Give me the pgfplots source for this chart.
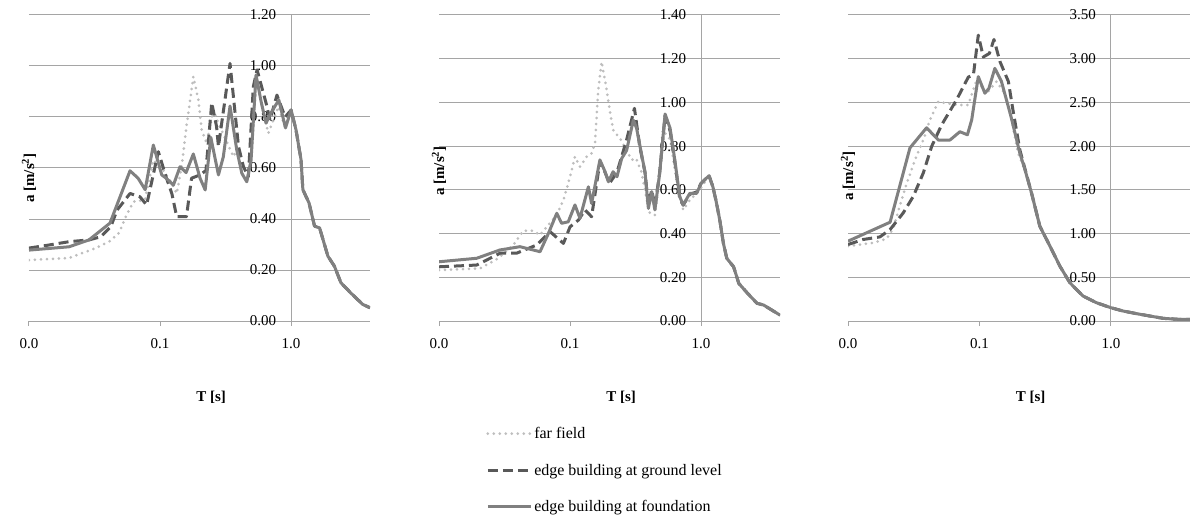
\documentclass[border=0pt]{standalone}
\usepackage{fontspec}
\setmainfont{Liberation Serif}
\usepackage{pgfplots}
\pgfplotsset{compat=1.18}

\definecolor{farcol}{RGB}{190,190,190}
\definecolor{groundcol}{RGB}{89,89,89}
\definecolor{foundcol}{RGB}{128,128,128}
\definecolor{gridcol}{RGB}{165,165,165}

\pgfkeys{/pgf/number format/assume math mode=true}
\tikzset{
  far/.style={farcol, line width=3pt, dash pattern=on 0pt off 6pt, line cap=round, line join=round},
  ground/.style={groundcol, line width=3pt, dash pattern=on 10pt off 5pt, line join=round},
  found/.style={foundcol, line width=3pt, line join=round},
}
\pgfplotsset{
  every axis/.append style={
    scale only axis, height=306pt,
    xmin=0.01, xmax=4, ymin=0,
    clip mode=individual,
    axis x line=bottom, axis y line=middle,
    axis line style={gridcol, line width=1pt, -},
    xtick={0.01,0.1,1}, xticklabels={0.0,0.1,1.0},
    xminorticks=false,
    xtick align=outside, major tick length=5pt,
    x tick style={gridcol, line width=1pt},
    y tick style={draw=none},
    hide obscured y ticks=false,
    ymajorgrids, grid style={gridcol, line width=1pt},
    yticklabel={\pgfmathprintnumber[fixed,fixed zerofill,precision=2]{\tick}\hspace*{9pt}},
    x tick label style={yshift=-9pt},
    tick label style={font=\fontsize{15}{18}\selectfont},
  },
}
\newcommand{\ylab}[1]{\node[rotate=90, font=\fontsize{15}{18}\selectfont\bfseries] at (rel axis cs:0,0.5) [xshift=#1] {a [m/s\textsuperscript{2}]};}
\newcommand{\xlab}{\node[font=\fontsize{15}{18}\selectfont\bfseries] at (rel axis cs:0.534,0) [yshift=-76pt] {T [s]};}

\begin{document}
\begin{tikzpicture}
\useasboundingbox (0,0) rectangle (1190pt,517pt);

% left panel
\begin{axis}[xmode=log, width=341pt, at={(29pt,196pt)}, anchor=south west,
  ymax=1.2, ytick={0,0.2,0.4,0.6,0.8,1.0,1.2}]
\addplot[far] coordinates {
 (0.01,0.239) (0.0202,0.247) (0.0254,0.266) (0.0323,0.286) (0.0408,0.311) (0.0486,0.345)
 (0.0548,0.409) (0.0626,0.468) (0.0767,0.475) (0.089,0.631) (0.1054,0.592) (0.1228,0.54)
 (0.134,0.50) (0.146,0.605) (0.159,0.762) (0.1795,0.958) (0.196,0.867) (0.208,0.749)
 (0.227,0.697) (0.255,0.827) (0.286,0.762) (0.325,0.70) (0.363,0.644) (0.385,0.671)
 (0.421,0.58) (0.459,0.546) (0.495,0.631) (0.545,0.96) (0.60,0.84) (0.67,0.736)
 (0.80,0.84) (0.9,0.76) (1.0,0.828)
 (1.09,0.75) (1.19,0.633) (1.23,0.515) (1.37,0.463) (1.51,0.372) (1.65,0.365)
 (1.91,0.254) (2.14,0.215) (2.40,0.150) (2.84,0.111) (3.52,0.065) (4.0,0.052)};
\addplot[ground] coordinates {
 (0.01,0.286) (0.0142,0.298) (0.0202,0.311) (0.0287,0.318) (0.0352,0.33) (0.0421,0.37)
 (0.047,0.435) (0.059,0.50) (0.0703,0.487) (0.079,0.455) (0.097,0.664) (0.112,0.56)
 (0.123,0.50) (0.134,0.409) (0.159,0.409) (0.174,0.56) (0.202,0.573) (0.224,0.59)
 (0.248,0.856) (0.27,0.762) (0.279,0.684) (0.342,1.01) (0.397,0.684) (0.433,0.605)
 (0.472,0.566) (0.515,0.919) (0.55,0.985) (0.65,0.847) (0.69,0.788) (0.78,0.886)
 (0.9,0.80) (1.0,0.827)
 (1.09,0.75) (1.19,0.633) (1.23,0.515) (1.37,0.463) (1.51,0.372) (1.65,0.365)
 (1.91,0.254) (2.14,0.215) (2.40,0.150) (2.84,0.111) (3.52,0.065) (4.0,0.052)};
\addplot[found] coordinates {
 (0.01,0.278) (0.0202,0.291) (0.0287,0.318) (0.0415,0.384) (0.059,0.589) (0.068,0.56)
 (0.077,0.515) (0.0889,0.690) (0.103,0.573) (0.112,0.559) (0.1265,0.533) (0.142,0.605)
 (0.158,0.582) (0.1795,0.655) (0.202,0.56) (0.221,0.514) (0.244,0.72) (0.279,0.573)
 (0.304,0.644) (0.342,0.843) (0.385,0.671) (0.421,0.579) (0.459,0.546) (0.495,0.631)
 (0.54,0.965) (0.59,0.861) (0.644,0.776) (0.70,0.815) (0.806,0.867) (0.906,0.757) (1.0,0.828)
 (1.09,0.75) (1.19,0.633) (1.23,0.515) (1.37,0.463) (1.51,0.372) (1.65,0.365)
 (1.91,0.254) (2.14,0.215) (2.40,0.150) (2.84,0.111) (3.52,0.065) (4.0,0.052)};
\ylab{-10pt}
\xlab
\end{axis}

% middle panel
\begin{axis}[xmode=log, width=341pt, at={(439pt,196pt)}, anchor=south west,
  ymax=1.4, ytick={0,0.2,0.4,0.6,0.8,1.0,1.2,1.4},
  legend style={at={(0.138,-0.34)}, anchor=north west, draw=none, fill=none,
    font=\fontsize{16}{19}\selectfont, row sep=20pt, inner sep=0pt, cells={anchor=west}},
  legend image code/.code={\draw[#1] (0pt,0pt) -- (43pt,0pt);}]
\addplot[far] coordinates {
 (0.01,0.233) (0.0206,0.241) (0.0284,0.287) (0.0369,0.348) (0.044,0.413) (0.0525,0.413)
 (0.059,0.393) (0.0664,0.431) (0.079,0.485) (0.089,0.553) (0.1,0.66) (0.109,0.752)
 (0.119,0.706) (0.134,0.752) (0.146,0.767) (0.155,0.813) (0.164,1.057) (0.174,1.186)
 (0.185,1.102) (0.199,0.98) (0.213,0.874) (0.24,0.836) (0.27,0.782) (0.294,0.737)
 (0.32,0.744) (0.35,0.683) (0.385,0.553) (0.406,0.493) (0.444,0.485) (0.47,0.6)
 (0.51,0.874) (0.58,0.83) (0.65,0.645) (0.73,0.508) (0.82,0.553) (0.98,0.6) (1.0,0.61)
 (1.15,0.665) (1.23,0.614) (1.3,0.55) (1.39,0.46) (1.48,0.355) (1.57,0.287) (1.77,0.248)
 (1.94,0.172) (2.26,0.127) (2.67,0.081) (3.0,0.073) (4.0,0.027)};
\addplot[ground] coordinates {
 (0.01,0.248) (0.0194,0.256) (0.0292,0.31) (0.039,0.31) (0.0558,0.348) (0.0703,0.409)
 (0.089,0.355) (0.1,0.431) (0.116,0.462) (0.13,0.508) (0.146,0.477) (0.169,0.729)
 (0.185,0.68) (0.2,0.63) (0.228,0.68) (0.27,0.828) (0.31,0.973) (0.34,0.8) (0.373,0.68)
 (0.396,0.53) (0.42,0.6) (0.444,0.52) (0.483,0.68) (0.531,0.94) (0.58,0.87) (0.63,0.73)
 (0.687,0.56) (0.73,0.53) (0.82,0.58) (0.925,0.59) (1.0,0.63)
 (1.15,0.665) (1.23,0.614) (1.3,0.55) (1.39,0.46) (1.48,0.355) (1.57,0.287) (1.77,0.248)
 (1.94,0.172) (2.26,0.127) (2.67,0.081) (3.0,0.073) (4.0,0.027)};
\addplot[found] coordinates {
 (0.01,0.271) (0.0194,0.287) (0.0292,0.325) (0.0415,0.34) (0.05,0.328) (0.059,0.317)
 (0.0683,0.40) (0.0792,0.493) (0.0862,0.447) (0.0969,0.454) (0.109,0.531) (0.119,0.47)
 (0.138,0.614) (0.146,0.538) (0.169,0.737) (0.185,0.683) (0.196,0.637) (0.213,0.683)
 (0.228,0.66) (0.248,0.744) (0.27,0.78) (0.304,0.919) (0.322,0.882) (0.354,0.752)
 (0.373,0.683) (0.396,0.515) (0.42,0.592) (0.444,0.508) (0.483,0.676) (0.531,0.947)
 (0.58,0.882) (0.63,0.737) (0.687,0.569) (0.73,0.531) (0.82,0.584) (0.925,0.584) (1.0,0.63)
 (1.15,0.665) (1.23,0.614) (1.3,0.55) (1.39,0.46) (1.48,0.355) (1.57,0.287) (1.77,0.248)
 (1.94,0.172) (2.26,0.127) (2.67,0.081) (3.0,0.073) (4.0,0.027)};
\legend{far field, edge building at ground level, edge building at foundation}
\ylab{-3pt}
\xlab
\end{axis}

% right panel
\begin{axis}[xmode=log, width=342pt, at={(848pt,196pt)}, anchor=south west,
  ymax=3.5, ytick={0,0.5,1.0,1.5,2.0,2.5,3.0,3.5}]
\addplot[far] coordinates {
 (0.01,0.856) (0.0156,0.894) (0.0197,0.94) (0.0221,1.06) (0.0249,1.327) (0.028,1.575)
 (0.0323,1.84) (0.0374,2.07) (0.042,2.3) (0.0487,2.51) (0.0563,2.49) (0.069,2.47)
 (0.082,2.47) (0.0953,2.76) (0.113,2.60) (0.135,2.74) (0.156,2.60) (0.176,2.3)
 (0.197,1.92) (0.222,1.72)
 (0.249,1.464) (0.288,1.084) (0.344,0.856) (0.409,0.628) (0.488,0.437) (0.615,0.285)
 (0.777,0.209) (1.0,0.152) (1.24,0.114) (1.57,0.084) (1.98,0.057) (2.51,0.03) (3.2,0.02) (4.0,0.018)};
\addplot[ground] coordinates {
 (0.01,0.875) (0.013,0.932) (0.0175,0.962) (0.0209,1.046) (0.0263,1.236) (0.0314,1.426)
 (0.0374,1.693) (0.0433,1.997) (0.0516,2.244) (0.067,2.53) (0.0823,2.79) (0.09,2.815)
 (0.098,3.27) (0.107,3.02) (0.119,3.06) (0.129,3.22) (0.143,2.97) (0.166,2.74)
 (0.18,2.41) (0.203,1.956) (0.222,1.74)
 (0.249,1.464) (0.288,1.084) (0.344,0.856) (0.409,0.628) (0.488,0.437) (0.615,0.285)
 (0.777,0.209) (1.0,0.152) (1.24,0.114) (1.57,0.084) (1.98,0.057) (2.51,0.03) (3.2,0.02) (4.0,0.018)};
\addplot[found] coordinates {
 (0.01,0.913) (0.0209,1.13) (0.0296,1.98) (0.0396,2.21) (0.0487,2.07) (0.0597,2.07)
 (0.071,2.165) (0.081,2.13) (0.0873,2.3) (0.098,2.795) (0.110,2.605) (0.118,2.66)
 (0.131,2.89) (0.147,2.74) (0.173,2.35) (0.203,1.92) (0.222,1.73)
 (0.249,1.464) (0.288,1.084) (0.344,0.856) (0.409,0.628) (0.488,0.437) (0.615,0.285)
 (0.777,0.209) (1.0,0.152) (1.24,0.114) (1.57,0.084) (1.98,0.057) (2.51,0.03) (3.2,0.02) (4.0,0.018)};
\ylab{-8pt}
\xlab
\end{axis}
\end{tikzpicture}
\end{document}
